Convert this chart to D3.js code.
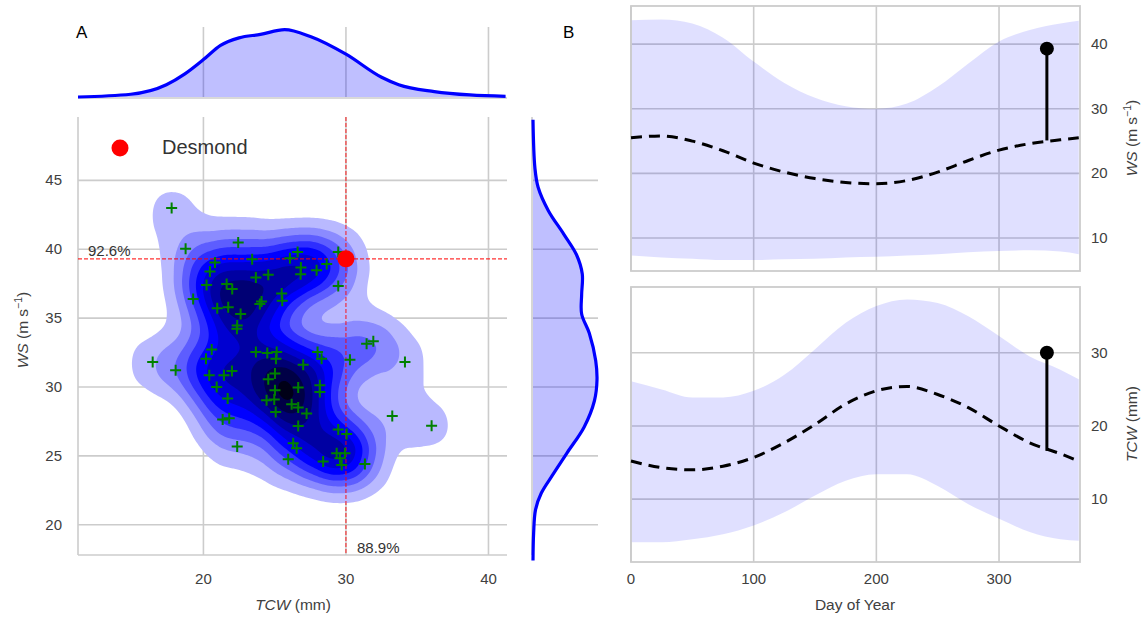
<!DOCTYPE html>
<html>
<head>
<meta charset="utf-8">
<script src="https://cdn.jsdelivr.net/npm/d3@7"></script>
<style>
  body { margin: 0; background: #fff; }
  text { font-family: "Liberation Sans", Arial, sans-serif; }
</style>
</head>
<body>
<div class="chart"></div>
<script>
// scatter of past storms, panel A (TCW in mm, WS in m/s)
var tcwObs = [17.77, 18.75, 22.44, 20.81, 20.46, 20.22, 19.28, 21.63, 22.02, 20.97, 21.74, 22.61, 22.37, 22.35, 23.42,
  23.68, 24.55, 24.08, 23.96, 25.49, 25.53, 26.07, 26.61, 26.84, 26.82, 27.94, 28.65, 29.46, 29.46,
  16.44, 18.05, 20.58, 20.18, 20.41, 21.44, 22.0, 20.93, 21.70, 21.35, 21.81, 22.37, 23.68, 24.48, 25.14,
  25.09, 27.0, 28.01, 28.29, 25.02, 24.55, 25.02, 26.65, 28.17, 28.17, 24.43, 24.97, 26.19, 26.65, 27.24,
  25.07, 26.65, 29.46, 30.05, 26.30, 26.54, 25.95, 28.40, 29.35, 29.58, 29.70, 29.93, 31.33, 30.28, 31.45,
  31.92, 34.14, 33.25, 36.01];
var wsObs = [43.0, 40.04, 40.48, 39.03, 38.38, 37.4, 36.39, 37.47, 37.11, 35.71, 35.78, 35.30, 34.46, 34.22, 39.28,
  37.95, 38.14, 36.21, 36.02, 36.79, 36.26, 39.35, 39.80, 38.67, 38.19, 38.48, 38.92, 39.80, 37.33,
  31.81, 31.21, 32.72, 32.05, 30.85, 30.85, 31.16, 30.0, 29.16, 27.64, 27.72, 25.67, 32.53, 32.46, 32.53,
  32.05, 31.61, 32.53, 32.05, 30.97, 30.56, 29.76, 29.96, 30.12, 29.64, 29.04, 29.09, 28.75, 28.51, 28.08,
  28.19, 27.16, 26.92, 26.58, 25.91, 25.55, 24.75, 24.58, 25.19, 24.83, 24.34, 25.19, 24.41, 31.98, 33.14,
  33.32, 31.81, 27.90, 27.18];

// Desmond
var stormName = "Desmond";
var stormTcw = 30.0;
var stormWs = 39.3;
var pctWs = "92.6%";
var pctTcw = "88.9%";

// marginal densities (relative height)
var tcwGrid = [11.2, 14.9, 17.4, 18.7, 20.0, 21.2, 22.5, 24.0, 25.7, 27.5, 30.0, 32.5, 33.7, 36.2, 38.7, 41.2];
var tcwDens = [0.0, 0.04, 0.18, 0.34, 0.55, 0.76, 0.87, 0.92, 0.99, 0.89, 0.63, 0.29, 0.18, 0.08, 0.03, 0.01];
var wsGrid = [49.4, 45.9, 44.5, 42.8, 41.1, 39.6, 38.2, 36.7, 35.3, 33.9, 31.9, 30.5, 29.0, 27.1, 25.2, 23.7, 22.3, 21.1, 19.4, 17.4];
var wsDens = [0.0, 0.03, 0.08, 0.24, 0.48, 0.68, 0.77, 0.76, 0.76, 0.88, 0.98, 1.0, 0.96, 0.80, 0.53, 0.32, 0.13, 0.04, 0.01, 0.0];

// panel B climatology
var days = [0, 25, 50, 75, 100, 125, 150, 175, 200, 225, 250, 275, 300, 325, 350, 365];
var wsMean = [25.5, 25.8, 25.0, 23.5, 21.6, 20.2, 19.2, 18.6, 18.4, 18.9, 20.2, 22.0, 23.6, 24.6, 25.2, 25.5];
var wsHigh = [43.7, 43.8, 43.2, 41.0, 37.3, 34.0, 31.7, 30.4, 30.0, 30.8, 33.4, 37.0, 40.4, 42.2, 43.2, 43.6];
var wsLow = [7.3, 7.0, 6.8, 6.6, 6.6, 6.7, 6.8, 7.0, 7.1, 7.3, 7.5, 7.8, 8.0, 8.1, 7.9, 7.5];
var tcwMean = [15.2, 14.3, 14.0, 14.5, 15.7, 17.7, 20.2, 23.0, 24.8, 25.4, 24.3, 22.5, 20.0, 17.7, 16.2, 15.2];
var tcwHigh = [26.1, 25.0, 23.9, 23.9, 24.8, 27.0, 30.5, 34.1, 36.4, 37.3, 36.8, 35.0, 32.3, 29.5, 27.7, 26.4];
var tcwLow = [4.1, 4.1, 4.5, 5.2, 6.4, 8.2, 10.5, 12.5, 13.4, 13.4, 11.8, 9.3, 7.3, 5.5, 4.5, 4.3];
var stormDay = 339;
var wsMeanAtStorm = 25.1;
var tcwMeanAtStorm = 16.6;

var xTicksA = [20, 30, 40];
var yTicksA = [20, 25, 30, 35, 40, 45];
var dayTicks = [0, 100, 200, 300];
var wsTicksB = [10, 20, 30, 40];
var tcwTicksB = [10, 20, 30];

var grid = "#cccccc";
var tickCol = "#404040";

var svg = d3.select(".chart").append("svg")
  .attr("width", 1148)
  .attr("height", 619);
svg.append("rect").attr("width", 1148).attr("height", 619).attr("fill", "#fff");

// scales
var xA = d3.scaleLinear().domain([11.2, 41.3]).range([78, 507]);
var yA = d3.scaleLinear().domain([17.8, 49.6]).range([555, 117]);
var yTop = d3.scaleLinear().domain([0, 1]).range([97, 29]);
var xRight = d3.scaleLinear().domain([0, 1]).range([533, 597]);
var xB = d3.scaleLinear().domain([0, 366]).range([631, 1080]);
var yWs = d3.scaleLinear().domain([4.9, 45.9]).range([271, 6]);
var yTcw = d3.scaleLinear().domain([1.4, 39.0]).range([562, 287]);

// ---------- panel A: main ----------
var gA = svg.append("g");
gA.selectAll(".vg").data(xTicksA).enter().append("line")
  .attr("x1", d => xA(d)).attr("x2", d => xA(d))
  .attr("y1", 117).attr("y2", 555)
  .attr("stroke", grid).attr("stroke-width", 1.6);
gA.selectAll(".hg").data(yTicksA).enter().append("line")
  .attr("x1", 78).attr("x2", 507)
  .attr("y1", d => yA(d)).attr("y2", d => yA(d))
  .attr("stroke", grid).attr("stroke-width", 1.6);
// spines
gA.append("line").attr("x1", 78).attr("x2", 78).attr("y1", 117).attr("y2", 555).attr("stroke", grid).attr("stroke-width", 1.6);
gA.append("line").attr("x1", 78).attr("x2", 507).attr("y1", 555).attr("y2", 555).attr("stroke", grid).attr("stroke-width", 1.6);

// kde contours
var pts = tcwObs.map((t, i) => [xA(t) - 78, yA(wsObs[i]) - 117]);
var dens = d3.contourDensity()
  .x(d => d[0]).y(d => d[1])
  .size([429, 438])
  .cellSize(2)
  .bandwidth(21);
var probe = dens.thresholds(80)(pts).filter(c => c.coordinates.length > 0);
var maxD = d3.max(probe, c => c.value);
var levels = d3.range(0, 10).map(k => maxD * (0.085 + k * 0.1));
var ramp = d3.piecewise(d3.interpolateRgb, ["#ffffff", "#0000ff", "#000000"]);
var contours = dens.thresholds(levels)(pts);
svg.append("clipPath").attr("id", "clipA").append("rect")
  .attr("x", 0).attr("y", 0).attr("width", 429).attr("height", 438);
gA.append("g")
  .attr("transform", "translate(78,117)")
  .attr("clip-path", "url(#clipA)")
  .selectAll("path").data(contours).enter().append("path")
  .attr("d", d3.geoPath())
  .attr("fill", (d, i) => ramp((i + 1.5) / 11));

// red guide lines
gA.append("line").attr("x1", 78).attr("x2", 507)
  .attr("y1", yA(stormWs)).attr("y2", yA(stormWs))
  .attr("stroke", "#ff0000").attr("stroke-width", 1.1).attr("stroke-dasharray", "4,2").attr("opacity", 0.8);
gA.append("line").attr("x1", xA(stormTcw)).attr("x2", xA(stormTcw))
  .attr("y1", 117).attr("y2", 555)
  .attr("stroke", "#ff0000").attr("stroke-width", 1.1).attr("stroke-dasharray", "4,2").attr("opacity", 0.8);

// plus markers
gA.selectAll(".pl").data(tcwObs).enter().append("path")
  .attr("d", (d, i) => {
    var x = xA(d), y = yA(wsObs[i]);
    return "M" + (x - 5.5) + "," + y + "H" + (x + 5.5) + "M" + x + "," + (y - 5.5) + "V" + (y + 5.5);
  })
  .attr("stroke", "#008000").attr("stroke-width", 2).attr("fill", "none");

gA.append("circle").attr("cx", xA(stormTcw)).attr("cy", yA(stormWs)).attr("r", 8.5).attr("fill", "#ff0000");

// legend
gA.append("circle").attr("cx", 120).attr("cy", 148).attr("r", 8.5).attr("fill", "#ff0000");
gA.append("text").attr("x", 162).attr("y", 154).attr("font-size", 20).attr("fill", "#333").text(stormName);

gA.append("text").attr("x", 88).attr("y", 256).attr("font-size", 15).attr("fill", "#333").text(pctWs);
gA.append("text").attr("x", 357).attr("y", 553).attr("font-size", 15).attr("fill", "#333").text(pctTcw);

// ticks
gA.selectAll(".xt").data(xTicksA).enter().append("text")
  .attr("x", d => xA(d)).attr("y", 584)
  .attr("text-anchor", "middle").attr("font-size", 15).attr("fill", tickCol)
  .text(d => d);
gA.selectAll(".yt").data(yTicksA).enter().append("text")
  .attr("x", 62).attr("y", d => yA(d) + 5)
  .attr("text-anchor", "end").attr("font-size", 15).attr("fill", tickCol)
  .text(d => d);

var xl = gA.append("text").attr("x", 293).attr("y", 610).attr("text-anchor", "middle")
  .attr("font-size", 15.5).attr("fill", tickCol);
xl.append("tspan").attr("font-style", "italic").text("TCW");
xl.append("tspan").text(" (mm)");

function wsLabel(g, x, y) {
  var t = g.append("text").attr("transform", "translate(" + x + "," + y + ") rotate(-90)")
    .attr("text-anchor", "middle").attr("font-size", 15.5).attr("fill", tickCol);
  t.append("tspan").attr("font-style", "italic").text("WS");
  t.append("tspan").text(" (m s");
  t.append("tspan").attr("font-size", 10.5).attr("dy", -6).text("\u22121");
  t.append("tspan").attr("dy", 6).text(")");
}
wsLabel(gA, 28, 330);

// ---------- top marginal ----------
var gT = svg.append("g");
gT.selectAll("line").data(xTicksA).enter().append("line")
  .attr("x1", d => xA(d)).attr("x2", d => xA(d))
  .attr("y1", 27).attr("y2", 97)
  .attr("stroke", grid).attr("stroke-width", 1.6);
gT.append("line").attr("x1", 78).attr("x2", 507).attr("y1", 98).attr("y2", 98).attr("stroke", grid).attr("stroke-width", 1.6);
var topArea = d3.area().x(d => xA(d[0])).y0(yTop(0)).y1(d => yTop(d[1])).curve(d3.curveMonotoneX);
var topLine = d3.line().x(d => xA(d[0])).y(d => yTop(d[1])).curve(d3.curveMonotoneX);
var topData = tcwGrid.map((t, i) => [t, tcwDens[i]]);
gT.append("path").attr("d", topArea(topData)).attr("fill", "#0000ff").attr("opacity", 0.25);
gT.append("path").attr("d", topLine(topData)).attr("fill", "none").attr("stroke", "#0000ff").attr("stroke-width", 3.2);

// ---------- right marginal ----------
var gR = svg.append("g");
gR.selectAll("line").data(yTicksA).enter().append("line")
  .attr("x1", 533).attr("x2", 598)
  .attr("y1", d => yA(d)).attr("y2", d => yA(d))
  .attr("stroke", grid).attr("stroke-width", 1.6);
gR.append("line").attr("x1", 532).attr("x2", 532).attr("y1", 117).attr("y2", 555).attr("stroke", grid).attr("stroke-width", 1.6);
var rightData = wsGrid.map((w, i) => [w, wsDens[i]]);
var rArea = d3.area().y(d => yA(d[0])).x0(xRight(0)).x1(d => xRight(d[1])).curve(d3.curveCatmullRom);
var rLine = d3.line().y(d => yA(d[0])).x(d => xRight(d[1])).curve(d3.curveCatmullRom);
gR.append("path").attr("d", rArea(rightData)).attr("fill", "#0000ff").attr("opacity", 0.25);
gR.append("path").attr("d", rLine(rightData)).attr("fill", "none").attr("stroke", "#0000ff").attr("stroke-width", 3.2);

// panel letters
svg.append("text").attr("x", 76).attr("y", 38).attr("font-size", 17).attr("fill", "#000").text("A");
svg.append("text").attr("x", 563).attr("y", 38).attr("font-size", 17).attr("fill", "#000").text("B");

// ---------- panel B ----------
function climPanel(yS, ticks, mean, high, low, storm, meanAt, top, bottom) {
  var g = svg.append("g");
  g.selectAll(".vg").data(dayTicks).enter().append("line")
    .attr("x1", d => xB(d)).attr("x2", d => xB(d))
    .attr("y1", top).attr("y2", bottom)
    .attr("stroke", grid).attr("stroke-width", 1.6);
  g.selectAll(".hg").data(ticks).enter().append("line")
    .attr("x1", 631).attr("x2", 1080)
    .attr("y1", d => yS(d)).attr("y2", d => yS(d))
    .attr("stroke", grid).attr("stroke-width", 1.6);
  var band = d3.area().x((d, i) => xB(days[i])).y0((d, i) => yS(low[i])).y1((d, i) => yS(high[i])).curve(d3.curveMonotoneX);
  g.append("path").attr("d", band(days)).attr("fill", "#0000ff").attr("opacity", 0.12);
  g.append("rect").attr("x", 631).attr("y", top).attr("width", 449).attr("height", bottom - top)
    .attr("fill", "none").attr("stroke", grid).attr("stroke-width", 1.8);
  var ml = d3.line().x((d, i) => xB(days[i])).y((d, i) => yS(mean[i])).curve(d3.curveMonotoneX);
  g.append("path").attr("d", ml(days)).attr("fill", "none").attr("stroke", "#000")
    .attr("stroke-width", 3).attr("stroke-dasharray", "11,7");
  g.append("line").attr("x1", xB(stormDay)).attr("x2", xB(stormDay))
    .attr("y1", yS(meanAt)).attr("y2", yS(storm))
    .attr("stroke", "#000").attr("stroke-width", 3);
  g.append("circle").attr("cx", xB(stormDay)).attr("cy", yS(storm)).attr("r", 7).attr("fill", "#000");
  g.selectAll(".yt").data(ticks).enter().append("text")
    .attr("x", 1091).attr("y", d => yS(d) + 5)
    .attr("font-size", 15).attr("fill", tickCol)
    .text(d => d);
  return g;
}
var gWs = climPanel(yWs, wsTicksB, wsMean, wsHigh, wsLow, stormWs, wsMeanAtStorm, 6, 271);
var gTcw = climPanel(yTcw, tcwTicksB, tcwMean, tcwHigh, tcwLow, stormTcw, tcwMeanAtStorm, 287, 562);

wsLabel(gWs, 1137, 138);
var tl = gTcw.append("text").attr("transform", "translate(1137,424) rotate(-90)")
  .attr("text-anchor", "middle").attr("font-size", 15.5).attr("fill", tickCol);
tl.append("tspan").attr("font-style", "italic").text("TCW");
tl.append("tspan").text(" (mm)");

gTcw.selectAll(".xt").data(dayTicks).enter().append("text")
  .attr("x", d => xB(d)).attr("y", 584)
  .attr("text-anchor", "middle").attr("font-size", 15).attr("fill", tickCol)
  .text(d => d);
gTcw.append("text").attr("x", 855).attr("y", 610).attr("text-anchor", "middle")
  .attr("font-size", 15.5).attr("fill", tickCol).text("Day of Year");
</script>
</body>
</html>
